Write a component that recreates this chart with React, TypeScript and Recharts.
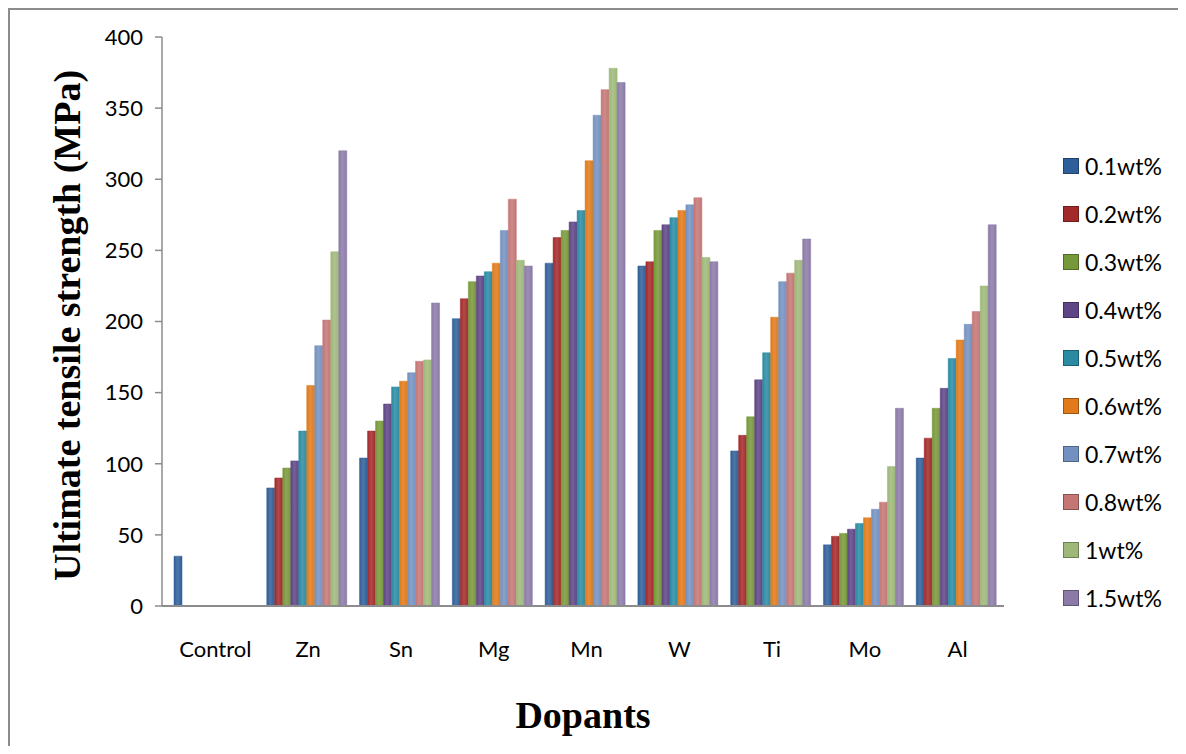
import React from "react";
import { Bar, BarChart, XAxis, YAxis } from "recharts";

// dopant groups along the x axis
const dopants = ["Control", "Zn", "Sn", "Mg", "Mn", "W", "Ti", "Mo", "Al"];

// ultimate tensile strength (MPa) per dopant, one list per concentration
const wt01 = [35, 83, 104, 202, 241, 239, 109, 43, 104];
const wt02 = [null, 90, 123, 216, 259, 242, 120, 49, 118];
const wt03 = [null, 97, 130, 228, 264, 264, 133, 51, 139];
const wt04 = [null, 102, 142, 232, 270, 268, 159, 54, 153];
const wt05 = [null, 123, 154, 235, 278, 273, 178, 58, 174];
const wt06 = [null, 155, 158, 241, 313, 278, 203, 62, 187];
const wt07 = [null, 183, 164, 264, 345, 282, 228, 68, 198];
const wt08 = [null, 201, 172, 286, 363, 287, 234, 73, 207];
const wt10 = [null, 249, 173, 243, 378, 245, 243, 98, 225];
const wt15 = [null, 320, 213, 239, 368, 242, 258, 139, 268];

const yTicks = [0, 50, 100, 150, 200, 250, 300, 350, 400];

const series = [
  { key: "wt01", name: "0.1wt%", values: wt01, color: "#2f5f98" },
  { key: "wt02", name: "0.2wt%", values: wt02, color: "#a32a2b" },
  { key: "wt03", name: "0.3wt%", values: wt03, color: "#77983a" },
  { key: "wt04", name: "0.4wt%", values: wt04, color: "#5e4585" },
  { key: "wt05", name: "0.5wt%", values: wt05, color: "#2a8ba3" },
  { key: "wt06", name: "0.6wt%", values: wt06, color: "#e07a1a" },
  { key: "wt07", name: "0.7wt%", values: wt07, color: "#7391c0" },
  { key: "wt08", name: "0.8wt%", values: wt08, color: "#c47675" },
  { key: "wt10", name: "1wt%", values: wt10, color: "#9eb879" },
  { key: "wt15", name: "1.5wt%", values: wt15, color: "#8b7aa8" },
];

const data = dopants.map((name, i) => {
  const row: any = { name };
  series.forEach((s) => {
    row[s.key] = s.values[i];
  });
  return row;
});

const font = "Lato, 'Open Sans', sans-serif";

const YTitle = ({ viewBox }: any) => {
  const cx = viewBox.x - 35;
  const cy = viewBox.y + viewBox.height / 2 + 4;
  return (
    <text
      x={cx}
      y={cy}
      transform={`rotate(-90, ${cx}, ${cy})`}
      textAnchor="middle"
      dominantBaseline="central"
      fontFamily="'Liberation Serif', 'Times New Roman', serif"
      fontWeight="bold"
      fontSize={38}
      fill="#000"
    >
      Ultimate tensile strength (MPa)
    </text>
  );
};

const XTitle = ({ viewBox }: any) => (
  <text
    x={viewBox.x + viewBox.width / 2}
    y={720}
    textAnchor="middle"
    fontFamily="'Liberation Serif', 'Times New Roman', serif"
    fontWeight="bold"
    fontSize={38}
    fill="#000"
  >
    Dopants
  </text>
);

const App = () => {
  return (
    <div
      style={{ position: "relative", width: 1170, height: 738, overflow: "hidden" }}
    >
      <div
        style={{
          position: "absolute",
          left: 0,
          top: 0,
          width: 1170,
          height: 738,
          borderTop: "2px solid #8c8c8c",
          borderLeft: "2px solid #8c8c8c",
          boxSizing: "border-box",
        }}
      />
      <BarChart
        width={1170}
        height={738}
        data={data}
        margin={{ top: 29, right: 174, bottom: 110, left: 94 }}
        barCategoryGap={5}
        barGap={0}
        style={{ position: "absolute", left: 0, top: 0 }}
      >
        <defs>
          {series.map((s) => (
            <linearGradient key={s.key} id={`g-${s.key}`} x1="0" y1="0" x2="1" y2="0">
              <stop offset="0%" stopColor={s.color} stopOpacity={1} />
              <stop offset="45%" stopColor={s.color} stopOpacity={0.85} />
              <stop offset="100%" stopColor={s.color} stopOpacity={1} />
            </linearGradient>
          ))}
        </defs>
        <XAxis
          dataKey="name"
          height={30}
          padding={{ left: 7, right: 0 }}
          tickLine={false}
          tickSize={0}
          tickMargin={35}
          axisLine={{ stroke: "#8c8c8c", strokeWidth: 2 }}
          tick={{ fontFamily: font, fontSize: 22, fill: "#000" }}
          interval={0}
          label={<XTitle />}
        />
        <YAxis
          width={60}
          domain={[0, 400]}
          ticks={yTicks}
          tickSize={7}
          tickMargin={12}
          axisLine={{ stroke: "#8c8c8c", strokeWidth: 1.5 }}
          tickLine={{ stroke: "#8c8c8c", strokeWidth: 1.5 }}
          tick={{ fontFamily: font, fontSize: 22, fill: "#000" }}
          label={<YTitle />}
        />
        {series.map((s) => (
          <Bar
            key={s.key}
            dataKey={s.key}
            name={s.name}
            fill={`url(#g-${s.key})`}
            stroke={s.color}
            strokeWidth={0.5}
            isAnimationActive={false}
          />
        ))}
      </BarChart>
      <div
        style={{
          position: "absolute",
          left: 1055,
          top: 134,
          fontFamily: font,
          fontSize: 23,
          color: "#000",
        }}
      >
        {series.map((s) => (
          <div
            key={s.key}
            style={{ height: 48, display: "flex", alignItems: "center" }}
          >
            <span
              style={{
                display: "inline-block",
                width: 14,
                height: 14,
                background: s.color,
                border: "1px solid rgba(0,0,0,0.3)",
                marginRight: 6,
              }}
            />
            {s.name}
          </div>
        ))}
      </div>
    </div>
  );
};

export default App;
